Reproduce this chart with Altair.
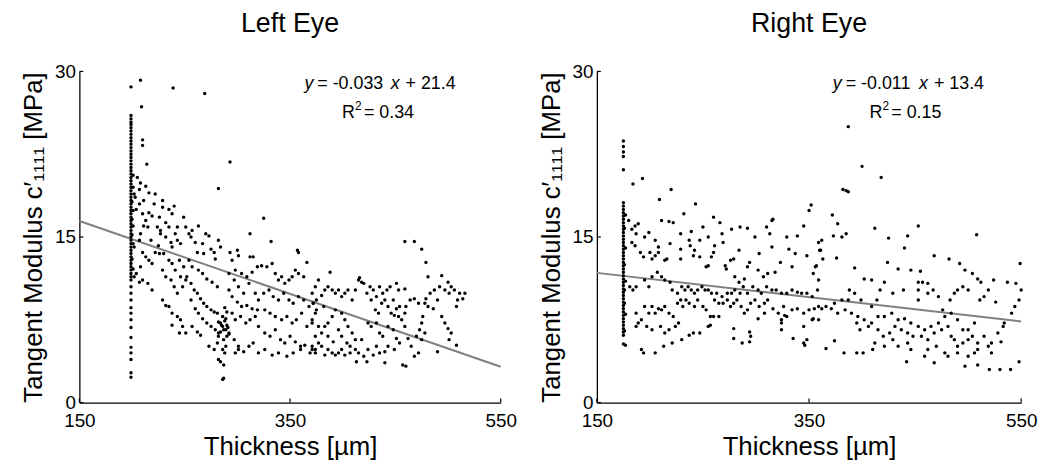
import altair as alt
import pandas as pd

FONT = "Liberation Sans"

X_TICKS = [150, 350, 550]
Y_TICKS = [0, 15, 30]
X_TITLE = "Thickness [µm]"
Y_TITLE = "Tangent Modulus c′₁₁₁₁ [MPa]"

LEFT_TITLE = "Left Eye"
RIGHT_TITLE = "Right Eye"
LEFT_FIT = (-0.033, 21.4)
RIGHT_FIT = (-0.011, 13.4)
LEFT_SLOPE_TXT = "= -0.033"
LEFT_ICPT_TXT = "+ 21.4"
LEFT_R2_TXT = "= 0.34"
RIGHT_SLOPE_TXT = "= -0.011"
RIGHT_ICPT_TXT = "+ 13.4"
RIGHT_R2_TXT = "= 0.15"

# dense vertical stack of measurements at the thinnest location
LEFT_COL_X = 199
LEFT_COL_Y = [28.6, 26.0, 25.7, 25.4, 25.2, 24.9, 24.6, 24.3, 24.0, 23.7, 23.4, 23.1,
              22.8, 22.5, 22.2, 21.9, 21.6, 21.3, 21.0, 20.7, 20.4, 20.1, 19.8, 19.5,
              19.2, 18.9, 18.6, 18.3, 18.0, 17.7, 17.4, 17.1, 16.8, 16.5, 16.2, 15.9,
              15.6, 15.3, 15.0, 14.7, 14.4, 14.1, 13.8, 13.5, 13.2, 12.9, 12.6, 12.3,
              12.0, 11.7, 11.4, 11.1, 10.5, 9.9, 9.3, 8.6, 8.1, 7.5, 6.8, 5.9, 5.0,
              4.5, 3.9, 2.7, 2.3]

LEFT_POINTS = [
    (201, 20.6), (201, 19.5), (200, 18.2), (201, 17.4), (200, 16.6), (201, 16.0),
    (200, 15.2), (201, 14.4), (200, 13.0), (201, 12.1),
    (208, 29.2), (239, 28.5), (269, 28.0), (209, 26.8), (210, 23.8), (210, 23.3),
    (214, 21.6), (293, 21.8), (282, 19.4), (325, 16.7), (312, 15.3), (332, 14.6),
    (357, 13.8), (459, 14.6), (468, 14.6), (475, 13.9), (479, 12.7),
    (205, 20.4), (208, 19.9), (207, 19.3), (202, 18.9), (203, 18.6), (213, 19.6),
    (216, 19.0), (211, 18.3), (207, 18.0), (204, 17.5), (210, 17.1), (216, 17.2),
    (219, 16.9), (213, 16.5), (211, 16.0), (208, 15.3), (215, 15.9), (218, 14.7),
    (207, 14.7), (202, 14.1), (210, 13.6), (213, 13.2), (216, 12.9), (219, 12.6),
    (208, 12.3), (204, 11.7), (210, 11.1), (215, 10.8), (219, 10.2), (202, 11.4),
    (207, 10.9), (222, 18.9), (221, 18.0), (226, 16.8), (224, 15.9), (227, 15.3),
    (225, 14.2), (222, 13.6), (226, 13.5), (229, 18.3), (235, 17.5), (238, 17.1),
    (240, 17.8), (229, 17.7), (232, 16.3), (235, 15.9), (227, 15.6), (232, 15.0),
    (237, 14.5), (238, 14.1), (230, 13.5), (235, 12.9), (238, 12.6), (241, 15.3),
    (243, 14.7), (246, 14.4), (249, 16.8), (251, 15.9), (243, 15.9), (229, 12.0),
    (232, 11.4), (237, 11.1), (240, 10.5), (243, 9.9), (246, 11.4), (249, 12.3),
    (229, 9.3), (232, 8.8), (235, 8.7), (238, 8.1), (243, 7.8), (246, 7.5),
    (248, 6.9), (238, 7.0), (245, 6.3), (251, 6.3), (248, 10.5), (251, 11.1),
    (241, 12.0), (245, 12.9), (254, 15.3), (257, 15.6), (256, 15.0), (260, 14.5),
    (263, 16.0), (262, 13.6), (267, 14.4), (270, 15.3), (273, 15.1), (268, 13.5),
    (275, 13.9), (278, 13.6), (279, 13.0), (282, 14.7), (284, 14.1), (254, 12.9),
    (257, 12.3), (263, 12.0), (267, 11.7), (271, 11.2), (276, 10.9), (281, 10.5),
    (252, 11.4), (256, 10.8), (259, 10.2), (262, 9.9), (265, 9.4), (268, 9.0),
    (271, 8.7), (275, 8.4), (278, 8.2), (281, 8.1), (256, 9.3), (260, 8.5),
    (263, 8.1), (267, 7.6), (271, 7.2), (275, 6.9), (279, 6.6), (282, 6.3),
    (257, 6.9), (262, 6.4), (265, 6.1), (273, 5.1), (278, 4.8), (281, 5.4),
    (282, 3.9), (284, 3.7), (287, 3.4), (286, 2.1), (287, 2.2), (282, 6.0),
    (284, 7.2), (286, 6.9), (289, 6.6), (290, 6.0), (287, 5.7), (289, 5.1),
    (286, 4.8), (288, 4.5), (282, 7.3), (286, 7.8), (288, 7.4), (290, 7.0),
    (291, 6.8), (289, 7.6), (287, 6.6), (292, 6.2), (285, 7.0), (284, 6.4),
    (290, 8.2), (288, 8.6),
    (293, 13.6), (295, 12.9), (300, 13.8), (301, 13.3), (298, 12.0), (292, 11.7),
    (297, 11.1), (301, 10.5), (306, 9.9), (311, 10.8), (312, 13.2), (315, 13.2),
    (304, 11.7), (309, 11.4), (314, 11.8), (319, 12.3), (317, 9.9), (320, 9.3),
    (292, 10.2), (295, 9.6), (300, 9.1), (304, 8.7), (309, 8.8), (314, 8.5),
    (319, 8.4), (295, 8.1), (298, 7.5), (303, 7.8), (308, 7.2), (312, 7.5),
    (317, 7.8), (320, 6.9), (292, 6.3), (297, 5.7), (301, 5.1), (306, 4.6),
    (311, 5.1), (315, 5.4), (320, 4.5), (298, 4.5), (301, 4.8),
    (323, 12.4), (328, 12.3), (333, 12.6), (336, 11.7), (339, 11.1), (342, 11.4),
    (345, 10.8), (349, 11.1), (352, 11.4), (355, 12.0), (358, 11.7), (363, 11.4),
    (366, 12.7), (358, 13.6), (325, 9.9), (330, 10.2), (334, 9.6), (339, 9.3),
    (344, 9.9), (349, 9.3), (353, 9.0), (358, 9.6), (363, 9.3), (368, 8.7),
    (372, 9.0), (375, 8.4), (326, 8.4), (331, 8.1), (336, 7.8), (342, 7.5),
    (347, 7.8), (352, 7.2), (356, 7.5), (361, 8.1), (366, 6.9), (371, 7.2),
    (326, 6.3), (331, 6.0), (336, 6.6), (341, 5.7), (345, 5.4), (350, 6.0),
    (355, 5.5), (360, 5.1), (364, 5.2), (369, 4.5), (374, 4.8), (326, 4.8),
    (333, 4.3), (339, 4.5), (347, 4.2), (353, 4.5), (360, 4.8), (371, 5.1),
    (481, 11.4), (494, 11.5), (500, 10.9), (503, 10.5), (506, 10.2), (511, 9.9),
    (516, 9.9), (514, 9.4), (509, 9.3), (508, 8.7), (501, 9.9), (497, 10.2),
    (492, 10.5), (487, 10.2), (483, 9.9), (479, 9.4), (478, 9.0), (481, 8.7),
    (486, 8.5), (490, 9.3), (494, 7.8), (497, 7.2), (500, 6.7), (503, 6.3),
    (501, 5.7), (508, 5.2), (490, 4.6), (476, 7.8), (475, 7.2), (473, 6.6),
    (478, 6.3), (475, 5.7), (470, 6.0), (472, 4.5), (468, 4.2), (465, 5.1),
    (462, 5.8), (459, 6.9), (456, 7.5), (459, 8.1), (460, 8.7), (464, 9.3),
    (468, 9.4), (472, 9.0), (454, 8.7), (451, 8.5), (449, 7.9), (453, 7.8),
    (448, 9.3), (453, 10.2), (459, 10.3), (451, 10.8), (445, 10.5), (442, 10.2),
    (438, 9.9), (435, 10.5), (432, 9.6), (429, 10.2), (426, 10.5), (423, 9.9),
    (420, 10.8), (415, 11.1), (412, 10.2), (409, 9.3), (405, 10.2), (402, 9.9),
    (399, 9.6), (396, 10.2), (393, 9.9), (390, 10.2), (386, 10.5), (383, 10.2),
    (380, 9.7), (377, 11.1), (374, 10.5), (388, 11.8), (416, 11.3), (418, 10.9),
    (427, 9.3), (431, 8.4), (434, 8.1), (437, 9.0), (440, 9.3), (443, 8.7),
    (446, 8.1), (424, 7.2), (427, 6.9), (432, 7.2), (435, 6.3), (438, 6.0),
    (443, 6.9), (448, 6.6), (451, 5.8), (454, 5.4), (449, 4.8), (443, 5.1),
    (440, 4.6), (435, 4.5), (432, 5.1), (429, 4.3), (424, 4.8), (420, 4.2),
    (415, 4.5), (412, 4.8), (407, 4.5), (402, 4.3), (399, 4.8), (396, 4.5),
    (393, 4.3), (390, 4.5), (386, 4.8), (383, 4.3), (380, 5.1), (377, 5.4),
    (374, 4.5), (371, 4.8), (413, 3.7), (423, 3.7), (440, 3.6), (457, 3.4),
    (460, 3.3), (399, 8.1), (402, 7.5), (405, 6.9), (409, 6.3), (412, 5.7),
    (418, 5.7), (393, 8.4), (390, 7.8), (386, 7.2), (383, 6.9), (380, 6.3),
    (377, 6.9), (374, 8.1), (371, 7.5), (396, 6.6), (399, 6.0), (404, 5.4),
    (407, 5.1), (386, 6.0), (391, 5.5), (374, 6.0), (382, 8.7), (372, 9.0),
    (375, 9.3), (371, 9.9),
]

RIGHT_COL_X = 175
RIGHT_COL_Y = [23.7, 23.2, 22.7, 22.3, 21.1, 18.1, 17.8, 17.5, 17.2, 16.9, 16.6, 16.3,
               16.0, 15.7, 15.4, 15.1, 14.8, 14.5, 14.2, 13.9, 13.6, 13.3, 13.0, 12.7,
               12.4, 12.1, 11.8, 11.5, 11.2, 10.9, 10.6, 10.3, 10.0, 9.7, 9.4, 9.1,
               8.8, 8.5, 8.2, 7.9, 7.6, 7.3, 7.0, 6.7, 6.4, 6.1, 5.3]

RIGHT_POINTS = [
    (177, 17.0), (176, 15.8), (177, 14.0), (176, 12.5), (177, 11.0), (176, 9.0),
    (177, 8.0), (176, 6.5), (177, 5.2),
    (184, 19.8), (193, 20.3), (209, 18.4), (220, 19.3), (243, 18.0), (232, 17.1),
    (211, 16.5), (218, 16.4), (222, 16.3), (189, 16.2), (186, 16.0), (183, 15.7),
    (180, 16.5), (187, 15.3), (183, 14.5), (186, 14.2), (191, 13.6), (194, 13.2),
    (199, 15.4), (195, 15.0), (205, 14.7), (208, 14.1), (200, 13.6), (202, 13.0),
    (205, 13.3), (208, 13.6), (214, 12.9), (216, 13.0), (219, 14.4), (229, 15.3),
    (229, 13.9), (229, 13.0), (237, 14.7), (238, 14.2), (239, 15.5), (247, 14.7),
    (250, 15.9), (255, 15.0), (260, 16.8), (266, 16.3), (268, 15.3), (269, 14.5),
    (261, 14.2), (258, 13.2), (260, 13.6), (253, 12.3), (255, 12.4), (247, 13.2),
    (242, 13.8), (241, 13.3), (271, 12.4), (272, 12.1), (276, 12.9), (277, 15.7),
    (279, 13.0), (284, 13.8), (285, 15.9), (292, 15.8), (299, 15.0), (303, 13.5),
    (294, 12.7), (292, 12.3), (289, 11.2), (284, 10.9), (280, 11.4), (310, 15.9),
    (315, 16.5), (316, 16.6), (313, 15.3), (315, 14.1), (323, 12.7), (318, 11.8),
    (311, 11.7), (302, 12.0), (307, 11.4), (329, 15.0), (331, 13.9), (337, 13.5),
    (334, 12.3), (339, 15.1), (345, 16.0), (348, 13.3), (350, 17.4), (352, 17.9),
    (354, 11.7), (356, 12.3), (359, 14.5), (361, 13.8), (359, 11.1),
    (176, 10.2), (181, 10.5), (184, 10.2), (187, 10.5), (195, 11.1), (199, 10.5),
    (202, 11.4), (207, 11.8), (211, 11.4), (214, 11.1), (219, 10.9), (221, 10.2),
    (226, 9.9), (230, 10.5), (233, 10.2), (236, 10.5), (239, 10.2), (242, 9.9),
    (245, 10.2), (249, 10.5), (252, 10.2), (255, 10.2), (258, 9.9), (263, 9.9),
    (268, 9.6), (273, 9.9), (277, 9.9), (280, 10.2), (285, 9.9), (288, 10.5),
    (292, 9.9), (297, 10.5), (302, 10.2), (305, 9.9), (310, 10.5), (315, 10.2),
    (319, 10.2), (324, 9.9), (329, 9.9), (334, 10.2), (339, 10.0), (343, 9.9),
    (348, 9.9), (353, 9.6), (358, 10.2),
    (195, 8.7), (199, 8.1), (187, 8.1), (189, 7.2), (192, 7.5), (202, 8.7),
    (205, 8.1), (208, 8.5), (211, 8.4), (214, 8.7), (218, 8.1), (222, 7.8),
    (226, 9.0), (229, 9.3), (231, 8.7), (234, 9.3), (237, 9.0), (242, 8.7),
    (245, 9.3), (250, 8.7), (253, 8.4), (257, 7.8), (261, 9.3), (265, 9.0),
    (269, 9.0), (273, 9.3), (276, 8.7), (279, 9.0), (282, 9.3), (286, 8.7),
    (289, 8.1), (292, 8.4), (295, 9.0), (299, 9.3), (303, 8.7), (308, 9.0),
    (311, 9.3), (316, 8.5), (321, 8.1), (326, 8.7), (329, 7.8), (334, 8.4),
    (339, 8.5), (345, 8.1), (350, 8.4), (354, 7.6), (359, 7.5),
    (192, 4.8), (194, 4.5), (205, 4.5), (213, 5.1), (221, 5.4), (214, 6.3),
    (218, 6.6), (210, 6.9), (202, 6.6), (197, 6.9), (187, 6.9), (224, 6.9),
    (227, 7.2), (230, 5.7), (237, 6.1), (241, 6.3), (247, 6.3), (255, 6.9),
    (257, 7.0), (260, 7.8), (265, 7.8), (279, 6.7), (279, 5.8), (287, 5.4),
    (294, 5.5), (295, 6.0), (294, 6.4), (302, 7.6), (308, 8.1), (324, 7.5),
    (324, 7.2), (324, 6.6), (327, 7.9), (335, 5.8), (345, 5.4), (346, 5.2),
    (348, 5.7), (353, 7.5), (345, 6.9),
    (387, 25.0), (400, 21.4), (418, 20.4), (382, 19.3), (387, 19.1), (385, 19.2),
    (372, 17.0), (377, 16.2), (373, 15.1), (381, 15.0), (385, 15.3), (412, 15.8),
    (425, 14.9), (443, 15.1), (453, 16.0), (440, 14.0), (508, 15.2), (549, 12.6),
    (362, 14.7), (360, 13.8), (363, 13.0), (376, 13.1), (357, 12.4), (393, 12.2),
    (402, 11.2), (409, 11.1), (421, 10.9), (424, 12.7), (434, 12.1), (446, 12.0),
    (455, 11.9), (468, 13.3), (482, 13.0), (492, 12.6), (497, 12.0), (504, 11.7),
    (509, 11.2), (512, 10.9), (524, 11.1), (537, 10.9), (545, 10.8), (550, 10.2),
    (548, 9.3), (544, 8.7), (541, 8.1), (534, 7.2), (533, 6.9), (526, 9.1),
    (519, 10.2), (515, 9.6), (511, 9.3), (500, 10.2), (495, 10.5), (490, 10.2),
    (487, 9.9), (483, 9.3), (476, 8.4), (472, 9.6), (467, 10.2), (462, 10.8),
    (457, 10.9), (453, 10.9), (453, 10.2), (453, 9.3), (462, 9.9), (439, 10.2),
    (429, 9.9), (417, 10.2), (414, 9.3), (409, 8.7), (399, 9.3), (393, 9.9),
    (388, 10.2), (387, 9.3), (381, 9.3), (374, 9.0), (371, 8.5), (366, 8.7),
    (362, 8.5), (359, 8.7), (355, 8.5), (377, 8.1), (384, 8.4), (390, 8.1),
    (396, 7.8), (402, 7.5), (409, 7.2), (415, 7.8), (421, 7.8), (428, 8.1),
    (434, 7.5), (440, 7.6), (446, 7.2), (453, 6.9), (459, 6.6), (465, 6.9),
    (472, 7.2), (478, 7.8), (484, 8.1), (490, 7.5), (495, 6.6), (500, 6.6),
    (506, 7.2), (395, 7.2), (398, 6.6), (406, 6.9), (415, 6.6), (420, 6.0),
    (426, 6.3), (431, 6.9), (437, 6.6), (443, 6.3), (448, 6.0), (456, 6.0),
    (462, 5.7), (468, 6.3), (475, 6.6), (481, 6.9), (484, 6.0), (487, 5.7),
    (490, 5.1), (495, 5.4), (500, 5.7), (504, 6.0), (509, 5.4), (515, 6.0),
    (522, 5.4), (528, 6.3), (531, 5.5), (429, 5.7), (434, 5.1), (443, 5.4),
    (446, 4.8), (462, 4.8), (470, 5.1), (478, 4.5), (481, 4.2), (490, 4.5),
    (500, 4.2), (506, 4.5), (509, 4.8), (519, 5.1), (366, 4.9), (374, 5.6),
    (383, 4.5), (395, 4.5), (401, 4.5), (410, 4.8), (412, 5.4), (421, 5.1),
    (442, 3.7), (459, 4.2), (468, 3.6), (497, 3.3), (509, 3.4), (520, 3.0),
    (530, 3.0), (540, 3.0), (548, 3.7), (522, 4.5),
]

W_LEFT, W_RIGHT, H = 425, 428, 334
X_SCALE = alt.Scale(domain=[150, 550], nice=False, zero=False)
Y_SCALE = alt.Scale(domain=[0, 30], nice=False)


def X(field):
    return alt.X(field, type="quantitative", scale=X_SCALE,
                 axis=alt.Axis(values=X_TICKS, title=X_TITLE))


def Y(field):
    return alt.Y(field, type="quantitative", scale=Y_SCALE,
                 axis=alt.Axis(values=Y_TICKS, title=Y_TITLE))


def label(text, px, py, size=18, italic=False):
    return alt.Chart(pd.DataFrame({"t": [text]})).mark_text(
        font=FONT, fontSize=size, fontStyle="italic" if italic else "normal",
        align="left", baseline="alphabetic", color="black",
    ).encode(text="t:N", x=alt.value(px), y=alt.value(py))


def panel(title, width, col_x, col_y, points, fit, slope_txt, icpt_txt, r2_txt, eq_x, r2_x):
    rows = [(col_x, v) for v in col_y] + list(points)
    df = pd.DataFrame(rows, columns=["x", "y"])
    dots = alt.Chart(df).mark_circle(size=12, color="black", opacity=1).encode(
        x=X("x"), y=Y("y"))
    a, b = fit
    line_df = pd.DataFrame({"x": X_TICKS[::2], "y": [a * X_TICKS[0] + b, a * X_TICKS[-1] + b]})
    line = alt.Chart(line_df).mark_line(color="#808080", strokeWidth=2).encode(
        x=X("x"), y=Y("y"))
    xt = alt.Chart(pd.DataFrame({"x": X_TICKS})).mark_rule(color="black", strokeWidth=1.2).encode(
        x=X("x"), y=alt.value(H), y2=alt.value(H - 4))
    yt = alt.Chart(pd.DataFrame({"y": Y_TICKS})).mark_rule(color="black", strokeWidth=1.2).encode(
        y=Y("y"), x=alt.value(0), x2=alt.value(4))
    texts = [
        label("y", eq_x, 18, italic=True),
        label(slope_txt, eq_x + 13, 18),
        label("x", eq_x + 87, 18, italic=True),
        label(icpt_txt, eq_x + 102, 18),
        label("R", r2_x, 47),
        label("2", r2_x + 13, 39, size=12),
        label(r2_txt, r2_x + 22, 47),
    ]
    return alt.layer(line, dots, xt, yt, *texts).properties(
        width=width, height=H,
        title=alt.TitleParams(title, font=FONT, fontSize=27, fontWeight="normal",
                              color="black", anchor="middle", offset=25),
    )


left = panel(LEFT_TITLE, W_LEFT, LEFT_COL_X, LEFT_COL_Y, LEFT_POINTS, LEFT_FIT,
             LEFT_SLOPE_TXT, LEFT_ICPT_TXT, LEFT_R2_TXT, 227, 265)
right = panel(RIGHT_TITLE, W_RIGHT, RIGHT_COL_X, RIGHT_COL_Y, RIGHT_POINTS, RIGHT_FIT,
              RIGHT_SLOPE_TXT, RIGHT_ICPT_TXT, RIGHT_R2_TXT, 238, 275)

chart = alt.hconcat(left, right, spacing=21).configure_view(stroke=None).configure_axis(
    grid=False, ticks=False, domainColor="black", domainWidth=1.3,
    labelFont=FONT, labelFontSize=19, labelColor="black",
    titleFont=FONT, titleFontSize=26, titleFontWeight="normal", titleColor="black",
).configure_axisX(labelPadding=9, titlePadding=3, labelFlush=False).configure_axisY(
    labelPadding=4, titlePadding=8).properties(
    background="white", padding={"left": 12, "top": 0, "right": 5, "bottom": 5})

chart.save("out.html", embed_options={"renderer": "svg", "actions": False})
